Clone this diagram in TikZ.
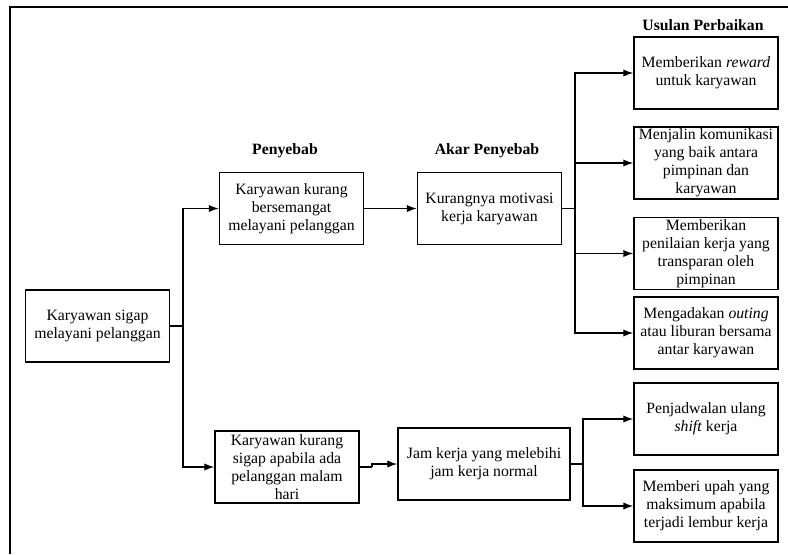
\documentclass[tikz,border=0pt]{standalone}
\usepackage{fontspec}
\setmainfont{Liberation Serif}
\usetikzlibrary{arrows.meta}

\begin{document}
\begin{tikzpicture}[x=0.75pt, y=-0.75pt,
    >=Latex,
    box/.style={draw, line width=1.1pt, minimum width=108pt, minimum height=54pt,
      inner sep=1pt, align=center, font=\fontsize{11.8}{13.5}\selectfont},
    head/.style={font=\fontsize{11.8}{13.5}\selectfont\bfseries},
    arr/.style={-{Latex[length=7.5pt,width=5.5pt]}, line width=1pt},
    link/.style={line width=1pt}
  ]
  \useasboundingbox (0,0) rectangle (788,554);
  \draw[line width=2pt] (788,7) -- (10,7) -- (10,554);   % outer frame

  \node[box] (src) at (97.5,326) {Karyawan sigap\\ melayani pelanggan};

  \node[head] (hpny) at (285,151) {Penyebab};
  \node[box] (pny1) at (291.5,208.5) {Karyawan kurang\\ bersemangat\\ melayani pelanggan};
  \node[box] (pny2) at (287,467) {Karyawan kurang\\ sigap apabila ada\\ pelanggan malam\\ hari};

  \node[head] (hakar) at (487,151) {Akar Penyebab};
  \node[box] (akar1) at (489.5,208.5) {Kurangnya motivasi\\ kerja karyawan};
  \node[box, minimum width=129pt] (akar2) at (484,464) {Jam kerja yang melebihi\\ jam kerja normal};

  \node[head] (hus) at (703,25) {Usulan Perbaikan};
  \node[box] (us1) at (706,73) {Memberikan \textit{reward}\\ untuk karyawan};
  \node[box] (us2) at (706,163) {Menjalin komunikasi\\ yang baik antara\\ pimpinan dan\\ karyawan};
  \node[box] (us3) at (706,253.5) {Memberikan\\ penilaian kerja yang\\ transparan oleh\\ pimpinan};
  \node[box] (us4) at (706,333) {Mengadakan \textit{outing}\\ atau liburan bersama\\ antar karyawan};
  \node[box] (us5) at (706,419) {Penjadwalan ulang\\ \textit{shift} kerja};
  \node[box] (us6) at (706,506) {Memberi upah yang\\ maksimum apabila\\ terjadi lembur kerja};

  % branch points
  \coordinate (j1) at (183,326);
  \coordinate (j2) at (575,208.5);
  \coordinate (j3) at (372,467);
  \coordinate (j4) at (583,464);

  \draw[link] (src.east) -- (j1);
  \draw[arr] (j1) |- (pny1.west);
  \draw[arr] (j1) |- (pny2.west);

  \draw[arr] (pny1.east) -- (akar1.west);
  \draw[link] (pny2.east) -- (j3);
  \draw[arr] (j3) |- (akar2.west);

  \draw[link] (akar1.east) -- (j2);
  \foreach \n in {us1,us2,us3,us4} \draw[arr] (j2) |- (\n.west);

  \draw[link] (akar2.east) -- (j4);
  \foreach \n in {us5,us6} \draw[arr] (j4) |- (\n.west);
\end{tikzpicture}
\end{document}
